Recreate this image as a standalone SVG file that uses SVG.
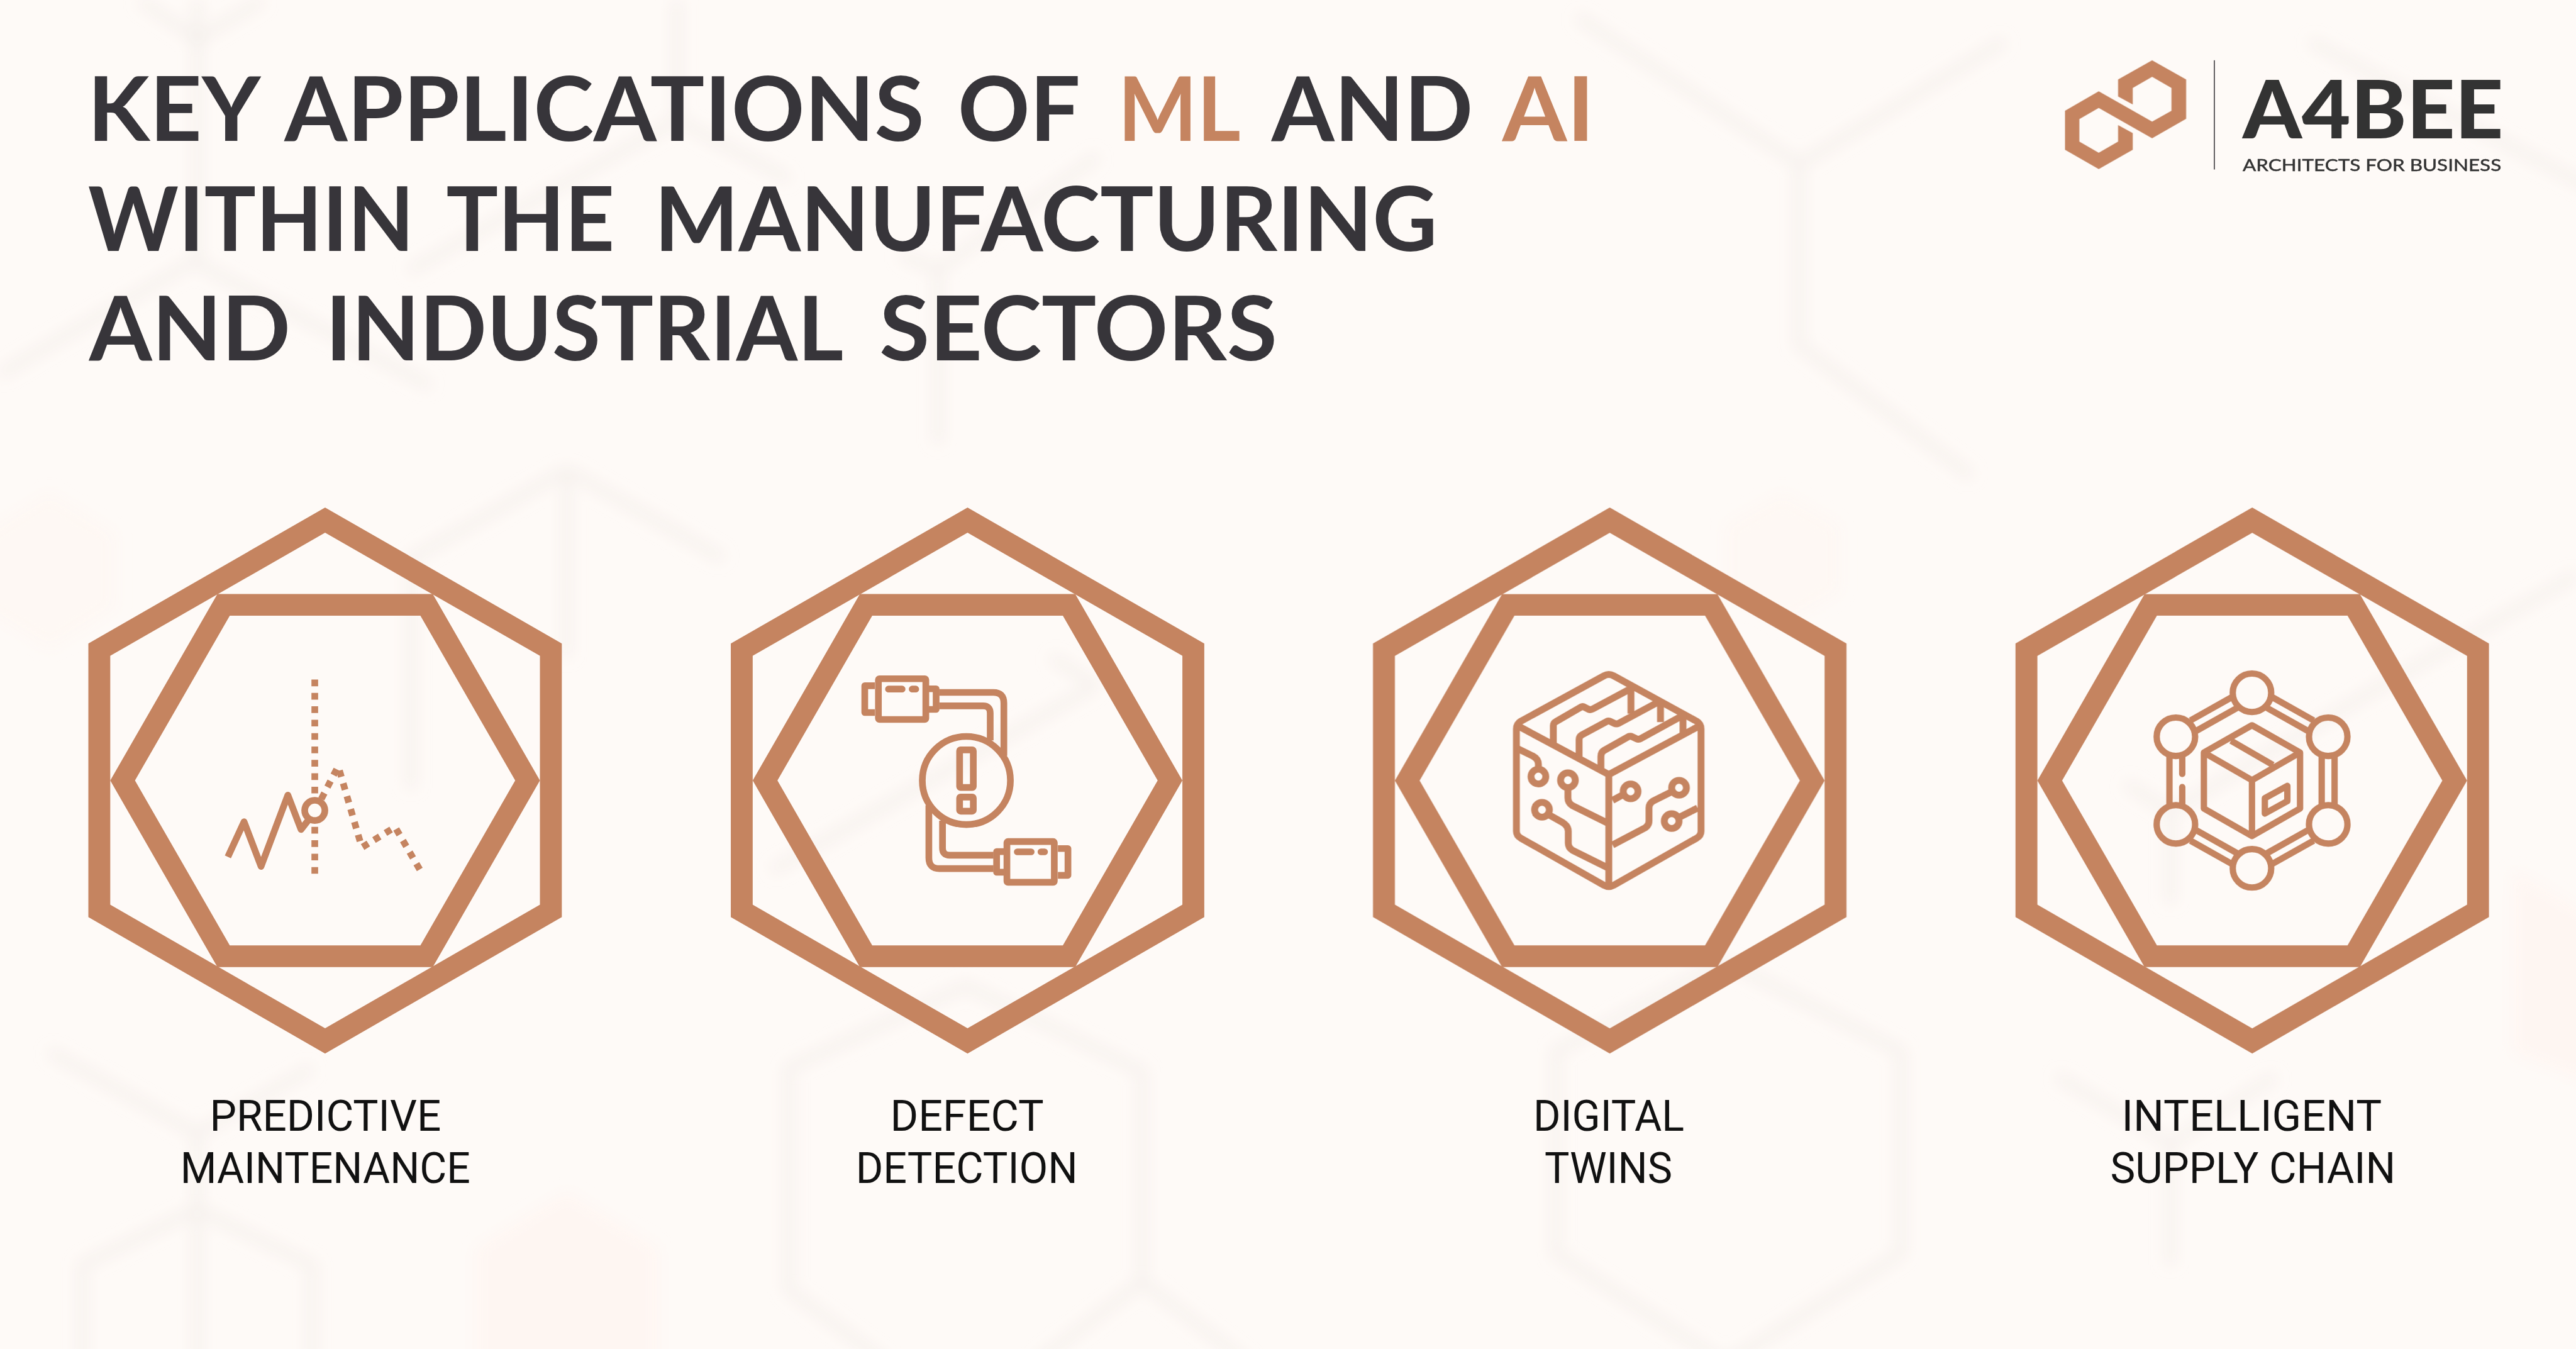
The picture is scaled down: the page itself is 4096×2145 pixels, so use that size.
<svg xmlns="http://www.w3.org/2000/svg" width="4096" height="2145" viewBox="0 0 4096 2145">
<style>
.ttl{font-family:"Lato","Liberation Sans",sans-serif;font-weight:700;font-size:173px;fill:#37353a}
.acc{fill:#c58460}
.lbl{font-family:"Roboto","Liberation Sans",sans-serif;font-weight:400;font-size:84px;fill:#111}
.cu{fill:#c58460}
.ln{fill:none;stroke:#c58460;stroke-width:13;stroke-linejoin:round}
.ln3{fill:none;stroke:#c58460;stroke-width:40;stroke-linejoin:round;stroke-linecap:butt}
.ln4{fill:none;stroke:#c58460;stroke-width:37;stroke-linejoin:round;stroke-linecap:butt}
.dot{stroke-dasharray:13 13}
.bgl{fill:none;stroke:#eee6e3;stroke-width:6;stroke-opacity:.45}
.bgp{fill:#fef6f2;stroke:none}
</style>
<defs>
<filter id="soft" x="-10%" y="-10%" width="120%" height="120%"><feGaussianBlur stdDeviation="4.5"/></filter>
<path id="hexA" fill-rule="evenodd" d="M0,-530 L459.5,-266 V265 L0,530 L-459.5,265 V-266 Z M0,-481 L-417,-242 V241 L0,481 L417,241 V-242 Z"/>
<path id="hexB" fill-rule="evenodd" d="M-209,-362 H209 L417,0 L209,362 H-209 L-417,0 Z M-185,-320 L-369,0 L-185,320 H185 L369,0 L185,-320 Z"/>
</defs>
<rect width="4096" height="2145" fill="#fefaf7"/>
<g id="root" transform="scale(.8192)">
<g id="background" transform="scale(3.189)" filter="url(#soft)">
<polygon class="bgp" points="345,726 400,760 400,830 290,830 290,760"/>
<polygon class="bgp" points="1530,530 1580,560 1580,660 1530,640"/>
<polygon class="bgp" points="1085,300 1120,320 1120,360 1085,380 1050,360 1050,320" opacity=".7"/>
<polygon class="bgp" points="30,300 70,325 70,370 30,395 -10,370 -10,325" opacity=".7"/>
<path class="bgl" d="M960,10 L1095,100 L1220,25 M1095,100 V210 L1200,290"/>
<path class="bgl" d="M120,0 V159 M30,210 L118,159 L262,235 M0,228 L30,210"/>
<path class="bgl" d="M85,0 L120,24 L160,0"/>
<path class="bgl" d="M412,0 V73 M249,165 L412,73 L480,109"/>
<path class="bgl" d="M548,155 L571,164 L668,95 M571,164 V270"/>
<path class="bgl" d="M1406,25 L1580,116"/>
<path class="bgl" d="M1294,477 L1321,494 L1445,420 L1568,350 M1321,494 V550"/>
<path class="bgl" d="M1252,655 L1321,696 L1385,655 M1321,696 V770"/>
<path class="bgl" d="M540,830 L480,785 V650 L588,600 L695,652 V780 L630,830 M695,780 L760,830"/>
<path class="bgl" d="M1050,830 L947,763 V640 L1050,585 L1157,640 V763 L1050,830"/>
<path class="bgl" d="M345,286 V400 M345,286 L250,340 V480 M345,286 L440,340"/>
<path class="bgl" d="M667,417 L470,530 M667,417 L640,400"/>
<path class="bgl" d="M50,830 V770 L120,736 L190,770 V830 M120,830 V690 M30,640 L120,690 L190,650"/>
</g>
<g id="title">
<text class="ttl" y="274"><tspan x="170" textLength="336" lengthAdjust="spacingAndGlyphs">KEY</tspan> <tspan x="552" textLength="1242" lengthAdjust="spacingAndGlyphs">APPLICATIONS</tspan> <tspan x="1859" textLength="238" lengthAdjust="spacingAndGlyphs">OF</tspan> <tspan class="acc" x="2170" textLength="238" lengthAdjust="spacingAndGlyphs">ML</tspan> <tspan x="2468" textLength="391" lengthAdjust="spacingAndGlyphs">AND</tspan> <tspan class="acc" x="2916" textLength="179" lengthAdjust="spacingAndGlyphs">AI</tspan></text>
<text class="ttl" y="487"><tspan x="171" textLength="633" lengthAdjust="spacingAndGlyphs">WITHIN</tspan> <tspan x="866" textLength="327" lengthAdjust="spacingAndGlyphs">THE</tspan> <tspan x="1270" textLength="1520" lengthAdjust="spacingAndGlyphs">MANUFACTURING</tspan></text>
<text class="ttl" y="700"><tspan x="173" textLength="391" lengthAdjust="spacingAndGlyphs">AND</tspan> <tspan x="632" textLength="1005" lengthAdjust="spacingAndGlyphs">INDUSTRIAL</tspan> <tspan x="1707" textLength="772" lengthAdjust="spacingAndGlyphs">SECTORS</tspan></text>
</g>
<g id="logo">
<polygon class="cu" transform="translate(3950,80) scale(.606,.3333)" points="266,322 266,223 375,111 484,223 484,452 375,565 204,388 142,453 142,584 204,649 266,584 266,488 313,535 313,632 204,745 96,632 96,405 204,291 375,468 437,405 437,272 375,207 313,272 313,368"/>
<rect x="4297" y="117" width="2" height="212" fill="#37353a"/>
<text x="4353" y="268" textLength="506" lengthAdjust="spacingAndGlyphs" style="font-family:'Lato','Liberation Sans',sans-serif;font-weight:900;font-size:157px;fill:#333">A4BEE</text>
<text x="4353" y="332" textLength="502" lengthAdjust="spacingAndGlyphs" style="font-family:'Lato','Liberation Sans',sans-serif;font-weight:400;font-size:33px;fill:#333;stroke:#333;stroke-width:.6">ARCHITECTS FOR BUSINESS</text>
</g>
<g id="node-predictive-maintenance">
<g transform="translate(631,1515)" class="cu"><use href="#hexA"/><use href="#hexB"/></g>
<path class="ln dot" d="M611,1319 V1697"/>
<path class="ln" d="M442.3,1663.3 L473.7,1595 L506.7,1681.7 L558.7,1543.3 L584.3,1610 L600,1590"/>
<circle class="ln" cx="611" cy="1573" r="19.6" style="fill:#fefaf7"/>
<path class="ln dot" d="M623.7,1550.8 L653.7,1492.5"/>
<path class="ln dot" d="M658.9,1495.5 L699.1,1633.9"/>
<path class="ln dot" d="M703.8,1644.1 L759.5,1609.9"/>
<path class="ln dot" d="M769,1609 L815.3,1688.6"/>
<text class="lbl" x="407" y="2195" textLength="449" lengthAdjust="spacingAndGlyphs">PREDICTIVE</text>
<text class="lbl" x="350" y="2296" textLength="563" lengthAdjust="spacingAndGlyphs">MAINTENANCE</text>
</g>
<g id="node-defect-detection">
<g transform="translate(1878,1515)" class="cu"><use href="#hexA"/><use href="#hexB"/></g>
<g>
<rect class="ln" x="1705" y="1317.5" width="92" height="79" rx="2"/>
<path class="ln" d="M1698,1331 H1678.5 V1383 H1698"/>
<path class="ln" d="M1800,1337 H1817 V1377 H1800"/>
<path class="ln" d="M1823,1344 H1928 Q1948.5,1344 1948.5,1365 V1467"/>
<path class="ln" d="M1823,1370 H1908 Q1922,1370 1922,1384 V1437"/>
</g>
<g transform="rotate(180 1875.7 1515)">
<rect class="ln" x="1705" y="1317.5" width="92" height="79" rx="2"/>
<path class="ln" d="M1698,1331 H1678.5 V1383 H1698"/>
<path class="ln" d="M1800,1337 H1817 V1377 H1800"/>
<path class="ln" d="M1823,1344 H1928 Q1948.5,1344 1948.5,1365 V1467"/>
<path class="ln" d="M1823,1370 H1908 Q1922,1370 1922,1384 V1437"/>
</g>
<path class="ln" style="stroke-linecap:round" d="M1724.5,1337.5 H1751 M1770.5,1337.5 H1777.5 M1974.5,1653.5 H2001.5 M2020.5,1653.5 H2027.5"/>
<circle class="ln" cx="1875.7" cy="1515" r="85.5"/>
<rect class="ln" x="1862.6" y="1455.5" width="26.6" height="73" rx="2"/>
<rect class="ln" x="1862.6" y="1547" width="26.6" height="27.5" rx="2"/>
<text class="lbl" x="1728" y="2195" textLength="298" lengthAdjust="spacingAndGlyphs">DEFECT</text>
<text class="lbl" x="1661" y="2296" textLength="431" lengthAdjust="spacingAndGlyphs">DETECTION</text>
</g>
<g id="node-digital-twins">
<g transform="translate(3124.5,1515)" class="cu"><use href="#hexA"/><use href="#hexB"/></g>
<g transform="translate(2880,1260) scale(.33333)">
<path class="ln3" d="M700,155 Q728,140 756,155 L1240,420 Q1265,435 1265,465 V1060 Q1265,1085 1240,1100 L756,1375 Q728,1390 700,1375 L215,1100 Q190,1085 190,1060 V465 Q190,435 215,420 Z"/>
<path class="ln3" d="M205,450 L728,730 L1250,450 M728,730 V1385"/>
<path class="ln3" d="M405,545 V445 Q405,430 420,422 L570,335 Q578,332 585,337 L610,350 Q622,355 635,348 L855,230 M857,225 V375"/>
<path class="ln3" d="M555,625 V525 Q555,510 570,500 L718,420 Q728,415 740,422 L760,432 Q772,438 785,432 L1030,300 M1029,300 V425"/>
<path class="ln3" d="M682,700 V625 Q682,600 700,590 L845,508 Q855,505 865,510 L890,522 Q902,528 915,520 L1160,385 M1160,375 V495"/>
<path class="ln3" d="M195,578 L285,622 Q318,640 318,670 V695"/>
<circle class="ln3" cx="318" cy="742" r="43"/>
<path class="ln3" d="M490,810 V865 Q490,895 515,910 L720,1012"/>
<circle class="ln3" cx="490" cy="763" r="43"/>
<path class="ln3" d="M380,965 L460,1010 Q492,1030 492,1060 V1130 Q492,1155 515,1170 L720,1272"/>
<circle class="ln3" cx="339" cy="935" r="43"/>
<path class="ln3" d="M750,880 L815,845"/>
<circle class="ln3" cx="855" cy="828" r="43"/>
<path class="ln3" d="M1095,830 L985,885 Q962,900 962,925 V1000 Q962,1025 940,1040 L750,1140"/>
<circle class="ln3" cx="1137" cy="807" r="43"/>
<path class="ln3" d="M1140,978 L1245,925"/>
<circle class="ln3" cx="1094" cy="1001" r="43"/>
</g>
<text class="lbl" x="2976" y="2195" textLength="293" lengthAdjust="spacingAndGlyphs">DIGITAL</text>
<text class="lbl" x="2998" y="2296" textLength="248" lengthAdjust="spacingAndGlyphs">TWINS</text>
</g>
<g id="node-intelligent-supply-chain">
<g transform="translate(4371.5,1515)" class="cu"><use href="#hexA"/><use href="#hexB"/></g>
<g transform="translate(4130,1270) scale(.33333)">
<circle class="ln4" cx="723" cy="224" r="112"/>
<circle class="ln4" cx="280" cy="480" r="112"/>
<circle class="ln4" cx="1167" cy="480" r="112"/>
<circle class="ln4" cx="280" cy="990" r="112"/>
<circle class="ln4" cx="1167" cy="990" r="112"/>
<circle class="ln4" cx="723" cy="1246" r="112"/>
<path class="ln4" d="M365,385 L605,250 M400,445 L640,310 M1082,385 L842,250 M1047,445 L807,310 M365,1085 L605,1220 M400,1025 L640,1160 M1082,1085 L842,1220 M1047,1025 L807,1160"/>
<path class="ln4" d="M1129,595 V875 M1204,595 V875 M242.5,595 V875"/>
<path class="ln4" style="stroke-linecap:round" d="M317,595 V697 M317,773 V875"/>
<path class="ln4" d="M723,413 L1003,572 V898 L723,1058 L443,898 V572 Z"/>
<path class="ln4" d="M443,572 L723,733 L1003,572 M723,733 V1058 M601,503 L845,644"/>
<path class="ln4" d="M798,838 L929,766 V855 L798,927 Z"/>
</g>
<text class="lbl" x="4118" y="2195" textLength="505" lengthAdjust="spacingAndGlyphs">INTELLIGENT</text>
<text class="lbl" x="4096" y="2296" textLength="554" lengthAdjust="spacingAndGlyphs">SUPPLY CHAIN</text>
</g>
</g>
</svg>
